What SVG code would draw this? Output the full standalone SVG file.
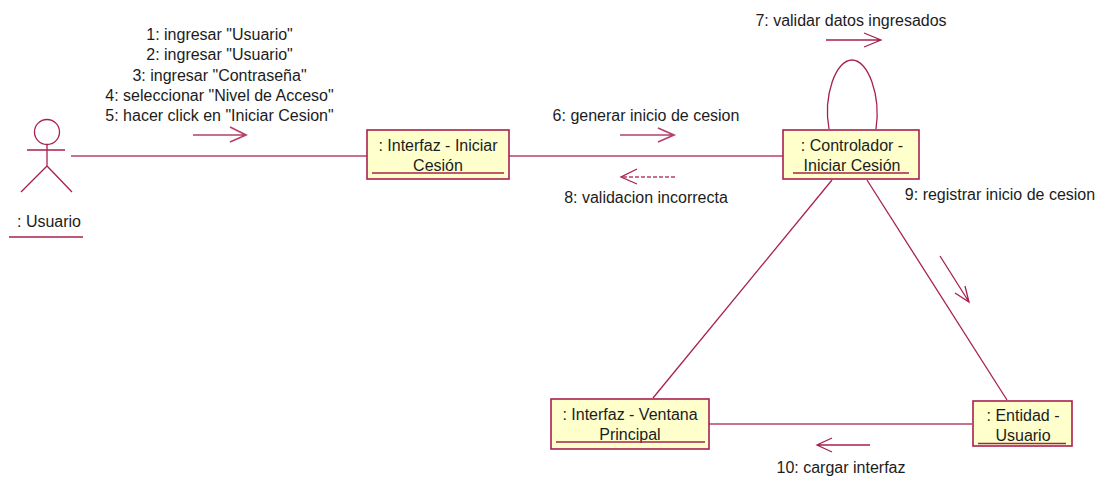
<svg xmlns="http://www.w3.org/2000/svg" width="1109" height="477" viewBox="0 0 1109 477">
<defs>
<style>
text{font-family:"Liberation Sans",Arial,sans-serif;font-size:16px;fill:#1c1c1c;text-anchor:middle}
.l{stroke:#a8204f;stroke-width:1.3;fill:none}
.h{stroke:#b5406b;stroke-width:1.7;fill:none}
.b{fill:#ffffcc;stroke:#a8204f;stroke-width:1.6}
.u{stroke:#a8204f;stroke-width:1.4;fill:none}
</style>
</defs>
<rect width="1109" height="477" fill="#ffffff"/>
<g id="connectors">
<path class="h" d="M71 156H367"/>
<path class="h" d="M509 156H783"/>
<path class="l" d="M829 129C823 95 836 60 852 60C868 60 881 95 876 129"/>
<path class="l" d="M832 180L653 398"/>
<path class="l" d="M867 180L1007 400"/>
<path class="h" d="M709 424H972"/>
<path class="h" d="M193 135H246M230 127L246 135L230 142"/>
<path class="h" d="M620 135H674M658 128L674 135L658 142"/>
<path class="h" d="M675 177H622" stroke-dasharray="4 2"/>
<path class="l" d="M637 169L621 177L637 184"/>
<path class="l" d="M826 40H881M864 33L881 40L864 47"/>
<path class="l" d="M940 256L969 302M955 293L969 302L965 286"/>
<path class="l" d="M870 445H817M832 438L817 445L832 452"/>
</g>
<g id="labels">
<text x="219.500" y="40">1: ingresar "Usuario"</text>
<text x="219.500" y="60">2: ingresar "Usuario"</text>
<text x="219.500" y="81">3: ingresar "Contraseña"</text>
<text x="219.500" y="101">4: seleccionar "Nivel de Acceso"</text>
<text x="219.500" y="121">5: hacer click en "Iniciar Cesion"</text>
<text x="646" y="121">6: generar inicio de cesion</text>
<text x="851" y="26">7: validar datos ingresados</text>
<text x="646" y="203">8: validacion incorrecta</text>
<text x="1000" y="200">9: registrar inicio de cesion</text>
<text x="841" y="473">10: cargar interfaz</text>
</g>
<g id="actor-usuario">
<circle class="l" cx="47" cy="132" r="12.500"/>
<path class="l" d="M27 150H65M47 144V166M21 192L47 166L72 192"/>
<text x="49" y="227">: Usuario</text>
<path class="u" d="M9 237H83"/>
</g>
<g id="node-interfaz-iniciar">
<rect class="b" x="367" y="130" width="142" height="49"/>
<text x="438" y="151">: Interfaz - Iniciar</text>
<text x="438" y="171">Cesión</text>
<path class="u" d="M372 173H504"/>
</g>
<g id="node-controlador">
<rect class="b" x="783" y="130" width="136" height="49"/>
<text x="852" y="151">: Controlador -</text>
<text x="852" y="171">Iniciar Cesión</text>
<path class="u" d="M793 173H909"/>
</g>
<g id="node-ventana">
<rect class="b" x="551" y="399" width="158" height="50"/>
<text x="630" y="420">: Interfaz - Ventana</text>
<text x="630" y="440">Principal</text>
<path class="u" d="M556 442H705"/>
</g>
<g id="node-entidad">
<rect class="b" x="973" y="401" width="99" height="45"/>
<text x="1023" y="421">: Entidad -</text>
<text x="1023" y="441">Usuario</text>
<path class="u" d="M978 443.500H1066"/>
</g>
</svg>
